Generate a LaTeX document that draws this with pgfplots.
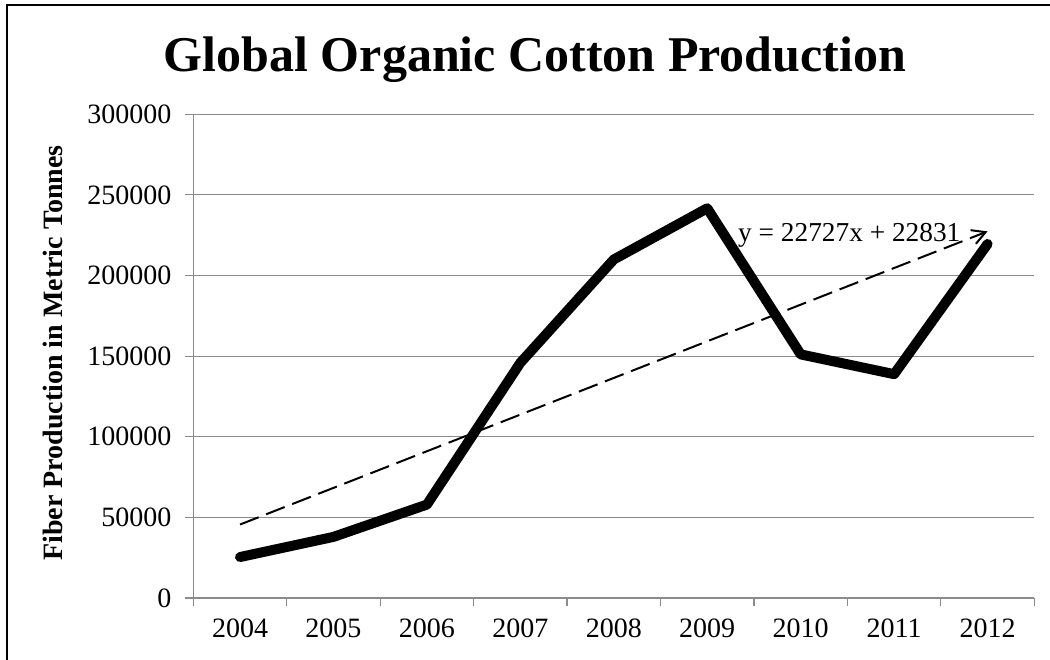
\documentclass[border=0pt]{standalone}
\usepackage{pgfplots}
\pgfplotsset{compat=1.18}
\usepackage{fontspec}
\setmainfont{Liberation Serif}
\usetikzlibrary{arrows.meta}
\definecolor{gridgray}{RGB}{140,140,140}
\begin{document}
\begin{tikzpicture}
\useasboundingbox (0,0) rectangle (787.5pt,495pt);
\draw[line width=1.5pt] (5.5pt,-20pt) -- (5.5pt,491.25pt) -- (820pt,491.25pt);
\node[anchor=base,font=\fontsize{37.5}{44}\selectfont\bfseries] at (401.25pt,441pt) {Global Organic Cotton Production};
\node[rotate=90,font=\fontsize{21}{25}\selectfont\bfseries] at (39.75pt,230.25pt) {Fiber Production in Metric Tonnes};
\begin{axis}[
  at={(144.975pt,46.5pt)}, anchor=south west, scale only axis,
  width=630.75pt, height=362.8pt,
  xmin=0.5, xmax=9.5, ymin=0, ymax=300000,
  axis x line=bottom, axis y line=left,
  axis line style={gridgray, line width=0.9pt, -},
  xtick={1,...,9},
  xticklabels={2004,2005,2006,2007,2008,2009,2010,2011,2012},
  major x tick style={draw=none},
  minor xtick={0.5,1.5,...,9.5},
  ytick={0,50000,100000,150000,200000,250000,300000},
  tick align=outside,
  tick style={gridgray, line width=0.9pt},
  major tick length=6pt, minor tick length=6pt,
  ymajorgrids, grid style={gridgray, line width=0.9pt},
  scaled y ticks=false,
  yticklabel style={xshift=-7pt, /pgf/number format/fixed, /pgf/number format/1000 sep={}},
  xticklabel style={yshift=-6pt},
  /pgf/number format/assume math mode=true,
  tick label style={font=\fontsize{21}{25}\selectfont},
]
\addplot[black, line width=7.5pt, line join=round, line cap=round] coordinates {
  (1,25394) (2,37902) (3,57931) (4,145872) (5,209950)
  (6,241697) (7,151079) (8,138813) (9,219556)};
\addplot[black, line width=1.5pt, dash pattern=on 15pt off 6pt,
  -{Straight Barb[length=10pt,width=11pt,line width=1.5pt]}] coordinates {
  (1,45558) (9,227374)};
\node[anchor=base, font=\fontsize{20.5}{24}\selectfont] at (axis cs:7.52,220800) {y = 22727x + 22831};
\end{axis}
\end{tikzpicture}
\end{document}
